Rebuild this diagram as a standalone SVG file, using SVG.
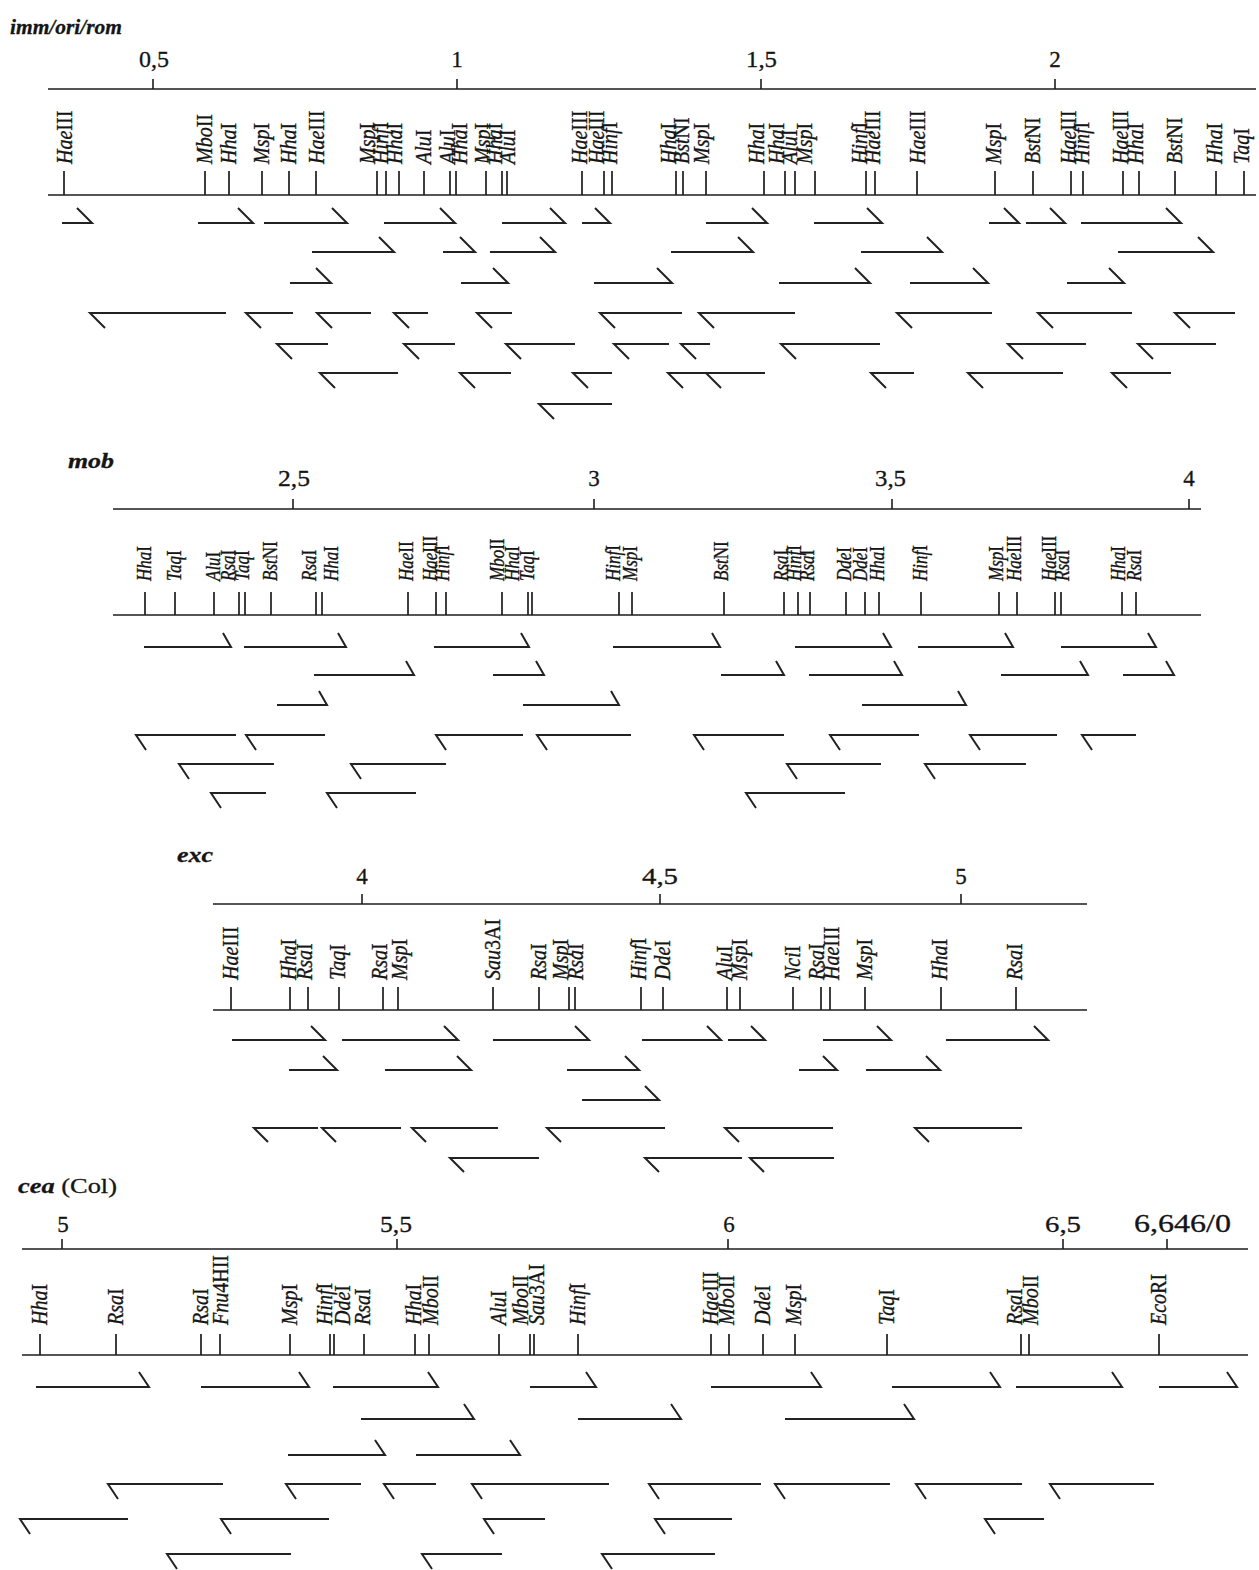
<svg xmlns="http://www.w3.org/2000/svg" width="1259" height="1570" viewBox="0 0 1259 1570">
<style>
text{font-family:"Liberation Serif","Times New Roman",serif;fill:#151515;stroke:#151515;stroke-width:0.3}
.ti{font-weight:bold;font-style:italic;font-size:21px}
.n{font-size:23px}
.a{font-size:20px}
.b{font-size:17px}
.i{font-style:italic}
.ln{stroke:#1e1e1e;stroke-width:1.6;fill:none}
.tk{stroke:#1e1e1e;stroke-width:1.7;fill:none}
.ar{stroke:#222;stroke-width:2;fill:none;stroke-linejoin:miter}
</style>
<rect width="1259" height="1570" fill="#fff" stroke="none"/>

<!-- ============ PANEL 1 ============ -->
<g id="panel-imm">
<text class="ti" x="10" y="34" textLength="112" lengthAdjust="spacingAndGlyphs">imm/ori/rom</text>
<g id="scale1">
<path class="ln" d="M48 89H1256M153 89v-10M457 89v-10M761 89v-10M1055 89v-10M48 195H1256"/>
<text class="n" x="139" y="67" textLength="30" lengthAdjust="spacingAndGlyphs">0,5</text>
<text class="n" x="457" y="67" text-anchor="middle">1</text>
<text class="n" x="746" y="67" textLength="31" lengthAdjust="spacingAndGlyphs">1,5</text>
<text class="n" x="1055" y="67" text-anchor="middle">2</text>
</g>
<g id="sites1">
<path class="tk" d="M64 171v24M205 171v24M229 171v24M262 171v24M289 171v24M316 171v24M377 171v24M386 171v24M399 171v24M424 171v24M450 171v24M456 171v24M486 171v24M502 171v24M507 171v24M582 171v24M604 171v24M612 171v24M676 171v24M683 171v24M706 171v24M764 171v24M785 171v24M795 171v24M815 171v24M866 171v24M875 171v24M917 171v24M995 171v24M1033 171v24M1071 171v24M1083 171v24M1123 171v24M1139 171v24M1175 171v24M1216 171v24M1244 171v24"/>
<text class="a" transform="translate(72,164)rotate(-90)scale(1,1.2)"><tspan class="i">Hae</tspan>III</text>
<text class="a" transform="translate(212,164)rotate(-90)scale(1,1.2)"><tspan class="i">Mbo</tspan>II</text>
<text class="a" transform="translate(236,164)rotate(-90)scale(1,1.2)"><tspan class="i">Hha</tspan>I</text>
<text class="a" transform="translate(269,164)rotate(-90)scale(1,1.2)"><tspan class="i">Msp</tspan>I</text>
<text class="a" transform="translate(296,164)rotate(-90)scale(1,1.2)"><tspan class="i">Hha</tspan>I</text>
<text class="a" transform="translate(324,164)rotate(-90)scale(1,1.2)"><tspan class="i">Hae</tspan>III</text>
<text class="a" transform="translate(375,164)rotate(-90)scale(1,1.2)"><tspan class="i">Msp</tspan>I</text>
<text class="a" transform="translate(388,164)rotate(-90)scale(1,1.2)"><tspan class="i">Hinf</tspan>I</text>
<text class="a" transform="translate(402,164)rotate(-90)scale(1,1.2)"><tspan class="i">Hha</tspan>I</text>
<text class="a" transform="translate(431,164)rotate(-90)scale(1,1.2)"><tspan class="i">Alu</tspan>I</text>
<text class="a" transform="translate(455,164)rotate(-90)scale(1,1.2)"><tspan class="i">Alu</tspan>I</text>
<text class="a" transform="translate(467,164)rotate(-90)scale(1,1.2)"><tspan class="i">Hha</tspan>I</text>
<text class="a" transform="translate(490,164)rotate(-90)scale(1,1.2)"><tspan class="i">Msp</tspan>I</text>
<text class="a" transform="translate(502,164)rotate(-90)scale(1,1.2)"><tspan class="i">Hha</tspan>I</text>
<text class="a" transform="translate(515,164)rotate(-90)scale(1,1.2)"><tspan class="i">Alu</tspan>I</text>
<text class="a" transform="translate(587,164)rotate(-90)scale(1,1.2)"><tspan class="i">Hae</tspan>III</text>
<text class="a" transform="translate(604,164)rotate(-90)scale(1,1.2)"><tspan class="i">Hae</tspan>III</text>
<text class="a" transform="translate(617,164)rotate(-90)scale(1,1.2)"><tspan class="i">Hinf</tspan>I</text>
<text class="a" transform="translate(676,164)rotate(-90)scale(1,1.2)"><tspan class="i">Hha</tspan>I</text>
<text class="a" transform="translate(689,164)rotate(-90)scale(1,1.2)"><tspan class="i">Bst</tspan>NI</text>
<text class="a" transform="translate(709,164)rotate(-90)scale(1,1.2)"><tspan class="i">Msp</tspan>I</text>
<text class="a" transform="translate(764,164)rotate(-90)scale(1,1.2)"><tspan class="i">Hha</tspan>I</text>
<text class="a" transform="translate(784,164)rotate(-90)scale(1,1.2)"><tspan class="i">Hha</tspan>I</text>
<text class="a" transform="translate(797,164)rotate(-90)scale(1,1.2)"><tspan class="i">Alu</tspan>I</text>
<text class="a" transform="translate(812,164)rotate(-90)scale(1,1.2)"><tspan class="i">Msp</tspan>I</text>
<text class="a" transform="translate(867,164)rotate(-90)scale(1,1.2)"><tspan class="i">Hinf</tspan>I</text>
<text class="a" transform="translate(880,164)rotate(-90)scale(1,1.2)"><tspan class="i">Hae</tspan>III</text>
<text class="a" transform="translate(925,164)rotate(-90)scale(1,1.2)"><tspan class="i">Hae</tspan>III</text>
<text class="a" transform="translate(1001,164)rotate(-90)scale(1,1.2)"><tspan class="i">Msp</tspan>I</text>
<text class="a" transform="translate(1040,164)rotate(-90)scale(1,1.2)"><tspan class="i">Bst</tspan>NI</text>
<text class="a" transform="translate(1076,164)rotate(-90)scale(1,1.2)"><tspan class="i">Hae</tspan>III</text>
<text class="a" transform="translate(1089,164)rotate(-90)scale(1,1.2)"><tspan class="i">Hinf</tspan>I</text>
<text class="a" transform="translate(1128,164)rotate(-90)scale(1,1.2)"><tspan class="i">Hae</tspan>III</text>
<text class="a" transform="translate(1143,164)rotate(-90)scale(1,1.2)"><tspan class="i">Hha</tspan>I</text>
<text class="a" transform="translate(1182,164)rotate(-90)scale(1,1.2)"><tspan class="i">Bst</tspan>NI</text>
<text class="a" transform="translate(1222,164)rotate(-90)scale(1,1.2)"><tspan class="i">Hha</tspan>I</text>
<text class="a" transform="translate(1249,164)rotate(-90)scale(1,1.2)"><tspan class="i">Taq</tspan>I</text>
</g>
<g id="arrows1">
<path class="ar" d="M62 223H92l-15-15M198 223H253l-15-15M264 223H347l-15-15M384 223H455l-15-15M502 223H565l-15-15M582 223H610l-15-15M706 223H767l-15-15M814 223H882l-15-15M989 223H1019l-15-15M1026 223H1065l-15-15M1081 223H1181l-15-15"/>
<path class="ar" d="M312 252H394l-15-15M443 252H475l-15-15M490 252H555l-15-15M671 252H753l-15-15M861 252H942l-15-15M1118 252H1213l-15-15"/>
<path class="ar" d="M290 283H331l-15-15M461 283H508l-15-15M594 283H672l-15-15M779 283H870l-15-15M910 283H988l-15-15M1067 283H1124l-15-15"/>
<path class="ar" d="M226 313H90l15 15M293 313H246l15 15M371 313H317l15 15M428 313H394l15 15M512 313H477l15 15M682 313H600l15 15M795 313H699l15 15M992 313H897l15 15M1132 313H1038l15 15M1235 313H1175l15 15"/>
<path class="ar" d="M328 344H277l15 15M455 344H404l15 15M575 344H506l15 15M669 344H614l15 15M710 344H681l15 15M880 344H781l15 15M1086 344H1008l15 15M1216 344H1138l15 15"/>
<path class="ar" d="M398 373H320l15 15M511 373H460l15 15M612 373H573l15 15M705 373H668l15 15M765 373H706l15 15M914 373H871l15 15M1063 373H968l15 15M1171 373H1112l15 15"/>
<path class="ar" d="M612 404H539l15 15"/>
</g>
</g>

<!-- ============ PANEL 2 ============ -->
<g id="panel-mob">
<text class="ti" x="68" y="468" textLength="46" lengthAdjust="spacingAndGlyphs">mob</text>
<g id="scale2">
<path class="ln" d="M113 509H1201M293 509v-10M594 509v-10M892 509v-10M1189 509v-10M113 615H1201"/>
<text class="n" x="278" y="486" textLength="32" lengthAdjust="spacingAndGlyphs">2,5</text>
<text class="n" x="594" y="486" text-anchor="middle">3</text>
<text class="n" x="875" y="486" textLength="31" lengthAdjust="spacingAndGlyphs">3,5</text>
<text class="n" x="1189" y="486" text-anchor="middle">4</text>
</g>
<g id="sites2">
<path class="tk" d="M145 592v23M175 592v23M214 592v23M239 592v23M245 592v23M271 592v23M316 592v23M322 592v23M408 592v23M436 592v23M446 592v23M502 592v23M528 592v23M532 592v23M619 592v23M632 592v23M724 592v23M784 592v23M798 592v23M810 592v23M846 592v23M865 592v23M879 592v23M921 592v23M999 592v23M1017 592v23M1055 592v23M1061 592v23M1122 592v23M1136 592v23"/>
<text class="b" transform="translate(151,581)rotate(-90)scale(1,1.2)"><tspan class="i">Hha</tspan>I</text>
<text class="b" transform="translate(181,581)rotate(-90)scale(1,1.2)"><tspan class="i">Taq</tspan>I</text>
<text class="b" transform="translate(220,581)rotate(-90)scale(1,1.2)"><tspan class="i">Alu</tspan>I</text>
<text class="b" transform="translate(235,581)rotate(-90)scale(1,1.2)"><tspan class="i">Rsa</tspan>I</text>
<text class="b" transform="translate(249,581)rotate(-90)scale(1,1.2)"><tspan class="i">Taq</tspan>I</text>
<text class="b" transform="translate(277,581)rotate(-90)scale(1,1.2)"><tspan class="i">Bst</tspan>NI</text>
<text class="b" transform="translate(316,581)rotate(-90)scale(1,1.2)"><tspan class="i">Rsa</tspan>I</text>
<text class="b" transform="translate(338,581)rotate(-90)scale(1,1.2)"><tspan class="i">Hha</tspan>I</text>
<text class="b" transform="translate(413,581)rotate(-90)scale(1,1.2)"><tspan class="i">Hae</tspan>II</text>
<text class="b" transform="translate(437,581)rotate(-90)scale(1,1.2)"><tspan class="i">Hae</tspan>III</text>
<text class="b" transform="translate(449,581)rotate(-90)scale(1,1.2)"><tspan class="i">Hinf</tspan>I</text>
<text class="b" transform="translate(504,581)rotate(-90)scale(1,1.2)"><tspan class="i">Mbo</tspan>II</text>
<text class="b" transform="translate(519,581)rotate(-90)scale(1,1.2)"><tspan class="i">Hha</tspan>I</text>
<text class="b" transform="translate(534,581)rotate(-90)scale(1,1.2)"><tspan class="i">Taq</tspan>I</text>
<text class="b" transform="translate(620,581)rotate(-90)scale(1,1.2)"><tspan class="i">Hinf</tspan>I</text>
<text class="b" transform="translate(637,581)rotate(-90)scale(1,1.2)"><tspan class="i">Msp</tspan>I</text>
<text class="b" transform="translate(728,581)rotate(-90)scale(1,1.2)"><tspan class="i">Bst</tspan>NI</text>
<text class="b" transform="translate(788,581)rotate(-90)scale(1,1.2)"><tspan class="i">Rsa</tspan>I</text>
<text class="b" transform="translate(801,581)rotate(-90)scale(1,1.2)"><tspan class="i">Hinf</tspan>I</text>
<text class="b" transform="translate(814,581)rotate(-90)scale(1,1.2)"><tspan class="i">Rsa</tspan>I</text>
<text class="b" transform="translate(851,581)rotate(-90)scale(1,1.2)"><tspan class="i">Dde</tspan>I</text>
<text class="b" transform="translate(867,581)rotate(-90)scale(1,1.2)"><tspan class="i">Dde</tspan>I</text>
<text class="b" transform="translate(884,581)rotate(-90)scale(1,1.2)"><tspan class="i">Hha</tspan>I</text>
<text class="b" transform="translate(927,581)rotate(-90)scale(1,1.2)"><tspan class="i">Hinf</tspan>I</text>
<text class="b" transform="translate(1003,581)rotate(-90)scale(1,1.2)"><tspan class="i">Msp</tspan>I</text>
<text class="b" transform="translate(1021,581)rotate(-90)scale(1,1.2)"><tspan class="i">Hae</tspan>III</text>
<text class="b" transform="translate(1056,581)rotate(-90)scale(1,1.2)"><tspan class="i">Hae</tspan>III</text>
<text class="b" transform="translate(1069,581)rotate(-90)scale(1,1.2)"><tspan class="i">Rsa</tspan>I</text>
<text class="b" transform="translate(1125,581)rotate(-90)scale(1,1.2)"><tspan class="i">Hha</tspan>I</text>
<text class="b" transform="translate(1141,581)rotate(-90)scale(1,1.2)"><tspan class="i">Rsa</tspan>I</text>
</g>
<g id="arrows2">
<path class="ar" d="M144 647H231l-8-14M244 647H346l-8-14M434 647H529l-8-14M613 647H720l-8-14M795 647H891l-8-14M918 647H1013l-8-14M1061 647H1156l-8-14"/>
<path class="ar" d="M314 675H414l-8-14M493 675H544l-8-14M721 675H784l-8-14M809 675H902l-8-14M1001 675H1088l-8-14M1123 675H1174l-8-14"/>
<path class="ar" d="M277 705H327l-8-14M523 705H619l-8-14M862 705H966l-8-14"/>
<path class="ar" d="M236 735H136l10 15M325 735H246l10 15M523 735H436l10 15M631 735H537l10 15M784 735H694l10 15M919 735H830l10 15M1057 735H970l10 15M1136 735H1082l10 15"/>
<path class="ar" d="M274 764H179l10 15M446 764H351l10 15M881 764H787l10 15M1026 764H925l10 15"/>
<path class="ar" d="M266 793H211l10 15M416 793H327l10 15M845 793H746l10 15"/>
</g>
</g>

<!-- ============ PANEL 3 ============ -->
<g id="panel-exc">
<text class="ti" x="177" y="862" textLength="36" lengthAdjust="spacingAndGlyphs">exc</text>
<g id="scale3">
<path class="ln" d="M213 904H1087M362 904v-10M660 904v-10M961 904v-10M213 1010H1087"/>
<text class="n" x="362" y="884" text-anchor="middle">4</text>
<text class="n" x="642" y="884" textLength="36" lengthAdjust="spacingAndGlyphs">4,5</text>
<text class="n" x="961" y="884" text-anchor="middle">5</text>
</g>
<g id="sites3">
<path class="tk" d="M231 987v23M290 987v23M308 987v23M339 987v23M383 987v23M398 987v23M493 987v23M539 987v23M569 987v23M575 987v23M641 987v23M663 987v23M727 987v23M740 987v23M793 987v23M821 987v23M830 987v23M865 987v23M941 987v23M1016 987v23"/>
<text class="a" transform="translate(238,980)rotate(-90)scale(1,1.2)"><tspan class="i">Hae</tspan>III</text>
<text class="a" transform="translate(296,980)rotate(-90)scale(1,1.2)"><tspan class="i">Hha</tspan>I</text>
<text class="a" transform="translate(312,980)rotate(-90)scale(1,1.2)"><tspan class="i">Rsa</tspan>I</text>
<text class="a" transform="translate(345,980)rotate(-90)scale(1,1.2)"><tspan class="i">Taq</tspan>I</text>
<text class="a" transform="translate(387,980)rotate(-90)scale(1,1.2)"><tspan class="i">Rsa</tspan>I</text>
<text class="a" transform="translate(407,980)rotate(-90)scale(1,1.2)"><tspan class="i">Msp</tspan>I</text>
<text class="a" transform="translate(500,980)rotate(-90)scale(1,1.2)"><tspan class="i">Sau</tspan>3AI</text>
<text class="a" transform="translate(546,980)rotate(-90)scale(1,1.2)"><tspan class="i">Rsa</tspan>I</text>
<text class="a" transform="translate(568,980)rotate(-90)scale(1,1.2)"><tspan class="i">Msp</tspan>I</text>
<text class="a" transform="translate(583,980)rotate(-90)scale(1,1.2)"><tspan class="i">Rsa</tspan>I</text>
<text class="a" transform="translate(646,980)rotate(-90)scale(1,1.2)"><tspan class="i">Hinf</tspan>I</text>
<text class="a" transform="translate(670,980)rotate(-90)scale(1,1.2)"><tspan class="i">Dde</tspan>I</text>
<text class="a" transform="translate(732,980)rotate(-90)scale(1,1.2)"><tspan class="i">Alu</tspan>I</text>
<text class="a" transform="translate(747,980)rotate(-90)scale(1,1.2)"><tspan class="i">Msp</tspan>I</text>
<text class="a" transform="translate(800,980)rotate(-90)scale(1,1.2)"><tspan class="i">Nci</tspan>I</text>
<text class="a" transform="translate(824,980)rotate(-90)scale(1,1.2)"><tspan class="i">Rsa</tspan>I</text>
<text class="a" transform="translate(839,980)rotate(-90)scale(1,1.2)"><tspan class="i">Hae</tspan>III</text>
<text class="a" transform="translate(872,980)rotate(-90)scale(1,1.2)"><tspan class="i">Msp</tspan>I</text>
<text class="a" transform="translate(947,980)rotate(-90)scale(1,1.2)"><tspan class="i">Hha</tspan>I</text>
<text class="a" transform="translate(1022,980)rotate(-90)scale(1,1.2)"><tspan class="i">Rsa</tspan>I</text>
</g>
<g id="arrows3">
<path class="ar" d="M232 1040H325l-14-14M342 1040H458l-14-14M493 1040H589l-14-14M642 1040H721l-14-14M728 1040H765l-14-14M823 1040H891l-14-14M946 1040H1048l-14-14"/>
<path class="ar" d="M289 1070H337l-14-14M385 1070H471l-14-14M567 1070H639l-14-14M799 1070H837l-14-14M866 1070H940l-14-14"/>
<path class="ar" d="M582 1100H659l-14-14"/>
<path class="ar" d="M318 1128H254l14 14M401 1128H322l14 14M498 1128H412l14 14M665 1128H547l14 14M833 1128H725l14 14M1022 1128H915l14 14"/>
<path class="ar" d="M539 1158H450l14 14M742 1158H645l14 14M834 1158H750l14 14"/>
</g>
</g>

<!-- ============ PANEL 4 ============ -->
<g id="panel-cea">
<text x="18" y="1193" style="font-size:22px" textLength="99" lengthAdjust="spacingAndGlyphs"><tspan class="ti" style="font-size:22px">cea</tspan> (Col)</text>
<g id="scale4">
<path class="ln" d="M22 1249H1248M62 1249v-10M397 1249v-10M728 1249v-10M1063 1249v-10M1167 1249v-10M22 1355H1248"/>
<text class="n" x="63" y="1232" text-anchor="middle">5</text>
<text class="n" x="380" y="1232" textLength="32" lengthAdjust="spacingAndGlyphs">5,5</text>
<text class="n" x="729" y="1232" text-anchor="middle">6</text>
<text class="n" x="1045" y="1232" textLength="36" lengthAdjust="spacingAndGlyphs">6,5</text>
<text class="n" x="1134" y="1232" style="font-size:25px" textLength="97" lengthAdjust="spacingAndGlyphs">6,646/0</text>
</g>
<g id="sites4">
<path class="tk" d="M40 1334v21M116 1334v21M201 1334v21M220 1334v21M290 1334v21M330 1334v21M334 1334v21M364 1334v21M415 1334v21M429 1334v21M499 1334v21M530 1334v21M534 1334v21M578 1334v21M711 1334v21M729 1334v21M763 1334v21M795 1334v21M887 1334v21M1021 1334v21M1029 1334v21M1159 1334v21"/>
<text class="a" transform="translate(47,1325)rotate(-90)scale(1,1.2)"><tspan class="i">Hha</tspan>I</text>
<text class="a" transform="translate(123,1325)rotate(-90)scale(1,1.2)"><tspan class="i">Rsa</tspan>I</text>
<text class="a" transform="translate(208,1325)rotate(-90)scale(1,1.2)"><tspan class="i">Rsa</tspan>I</text>
<text class="a" transform="translate(228,1325)rotate(-90)scale(1,1.2)"><tspan class="i">Fnu</tspan>4HII</text>
<text class="a" transform="translate(297,1325)rotate(-90)scale(1,1.2)"><tspan class="i">Msp</tspan>I</text>
<text class="a" transform="translate(332,1325)rotate(-90)scale(1,1.2)"><tspan class="i">Hinf</tspan>I</text>
<text class="a" transform="translate(350,1325)rotate(-90)scale(1,1.2)"><tspan class="i">Dde</tspan>I</text>
<text class="a" transform="translate(370,1325)rotate(-90)scale(1,1.2)"><tspan class="i">Rsa</tspan>I</text>
<text class="a" transform="translate(421,1325)rotate(-90)scale(1,1.2)"><tspan class="i">Hha</tspan>I</text>
<text class="a" transform="translate(438,1325)rotate(-90)scale(1,1.2)"><tspan class="i">Mbo</tspan>II</text>
<text class="a" transform="translate(506,1325)rotate(-90)scale(1,1.2)"><tspan class="i">Alu</tspan>I</text>
<text class="a" transform="translate(528,1325)rotate(-90)scale(1,1.2)"><tspan class="i">Mbo</tspan>II</text>
<text class="a" transform="translate(544,1325)rotate(-90)scale(1,1.2)"><tspan class="i">Sau</tspan>3AI</text>
<text class="a" transform="translate(585,1325)rotate(-90)scale(1,1.2)"><tspan class="i">Hinf</tspan>I</text>
<text class="a" transform="translate(718,1325)rotate(-90)scale(1,1.2)"><tspan class="i">Hae</tspan>III</text>
<text class="a" transform="translate(734,1325)rotate(-90)scale(1,1.2)"><tspan class="i">Mbo</tspan>II</text>
<text class="a" transform="translate(770,1325)rotate(-90)scale(1,1.2)"><tspan class="i">Dde</tspan>I</text>
<text class="a" transform="translate(801,1325)rotate(-90)scale(1,1.2)"><tspan class="i">Msp</tspan>I</text>
<text class="a" transform="translate(894,1325)rotate(-90)scale(1,1.2)"><tspan class="i">Taq</tspan>I</text>
<text class="a" transform="translate(1022,1325)rotate(-90)scale(1,1.2)"><tspan class="i">Rsa</tspan>I</text>
<text class="a" transform="translate(1038,1325)rotate(-90)scale(1,1.2)"><tspan class="i">Mbo</tspan>II</text>
<text class="a" transform="translate(1166,1325)rotate(-90)scale(1,1.2)"><tspan class="i">Eco</tspan>RI</text>
</g>
<g id="arrows4">
<path class="ar" d="M36 1387H149l-10-15M201 1387H309l-10-15M333 1387H438l-10-15M530 1387H596l-10-15M711 1387H821l-10-15M892 1387H1000l-10-15M1016 1387H1122l-10-15M1159 1387H1237l-10-15"/>
<path class="ar" d="M361 1419H474l-10-15M578 1419H681l-10-15M785 1419H914l-10-15"/>
<path class="ar" d="M288 1455H385l-10-15M416 1455H520l-10-15"/>
<path class="ar" d="M223 1484H108l10 15M361 1484H286l10 15M436 1484H384l10 15M609 1484H472l10 15M761 1484H649l10 15M890 1484H775l10 15M1022 1484H916l10 15M1154 1484H1050l10 15"/>
<path class="ar" d="M128 1519H20l10 15M329 1519H221l10 15M545 1519H484l10 15M732 1519H655l10 15M1044 1519H985l10 15"/>
<path class="ar" d="M291 1554H167l10 15M502 1554H422l10 15M715 1554H602l10 15"/>
</g>
</g>
</svg>
